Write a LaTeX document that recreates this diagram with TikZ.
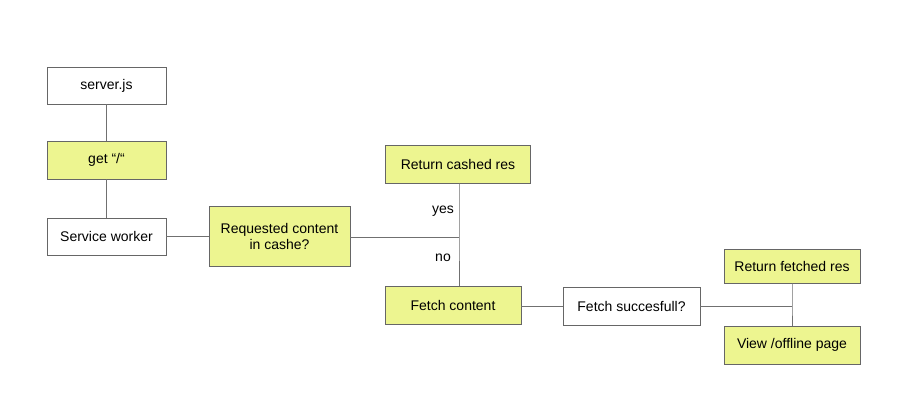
\documentclass[tikz,border=0pt]{standalone}
\usepackage{fontspec}
\setmainfont{Liberation Sans}
\definecolor{boxyellow}{HTML}{EDF590}
\definecolor{boxline}{HTML}{666666}
\definecolor{conline}{HTML}{707070}
\begin{document}
\begin{tikzpicture}[x=1pt,y=-1pt,
  base/.style={draw=boxline,line width=0.8pt,font=\fontsize{14}{16}\selectfont,align=center,inner sep=0pt},
  plain/.style={base,fill=white},
  yel/.style={base,fill=boxyellow},
  con/.style={draw=conline,line width=0.8pt},
  lbl/.style={font=\fontsize{14}{16}\selectfont,inner sep=0pt}]
\useasboundingbox[fill=white] (0,0) rectangle (908,415);
\node[plain,minimum width=119pt,minimum height=37pt] (srv) at (106.5,85.5) {server.js};
\node[yel,minimum width=119pt,minimum height=38pt] (get) at (106.5,160) {get “/“};
\node[plain,minimum width=119pt,minimum height=37pt] (sw) at (106.5,236.5) {Service worker};
\node[yel,minimum width=141pt,minimum height=60pt] (req) at (279.5,236.5) {Requested content\\in cashe?};
\node[yel,minimum width=145pt,minimum height=38pt] (ret) at (458,164) {Return cashed res};
\node[yel,minimum width=136pt,minimum height=38pt] (fetch) at (453,305) {Fetch content};
\node[plain,minimum width=137pt,minimum height=38pt] (succ) at (631.5,306) {Fetch succesfull?};
\node[yel,minimum width=136pt,minimum height=34pt] (retf) at (792,266) {Return fetched res};
\node[yel,minimum width=136pt,minimum height=38pt] (off) at (792,345) {View /offline page};
\coordinate (j1) at (459,237);
\coordinate (j2) at (792,306);
\draw[con] (srv) -- (get);
\draw[con] (get) -- (sw);
\draw[con] (sw.east) -- (req.west);
\draw[con] (req.east |- j1) -- (j1);
\draw[con] (ret.south -| j1) -- (j1) -- (fetch.north -| j1);
\draw[con] (fetch.east |- j2) -- (succ.west);
\draw[con] (succ.east) -- (j2);
\draw[con] (retf.south) -- (j2) -- (off.north);
\node[lbl,anchor=east] (yes) at (454,211) {yes};
\node[lbl,anchor=east] (no) at (451,258) {no};
\end{tikzpicture}
\end{document}
